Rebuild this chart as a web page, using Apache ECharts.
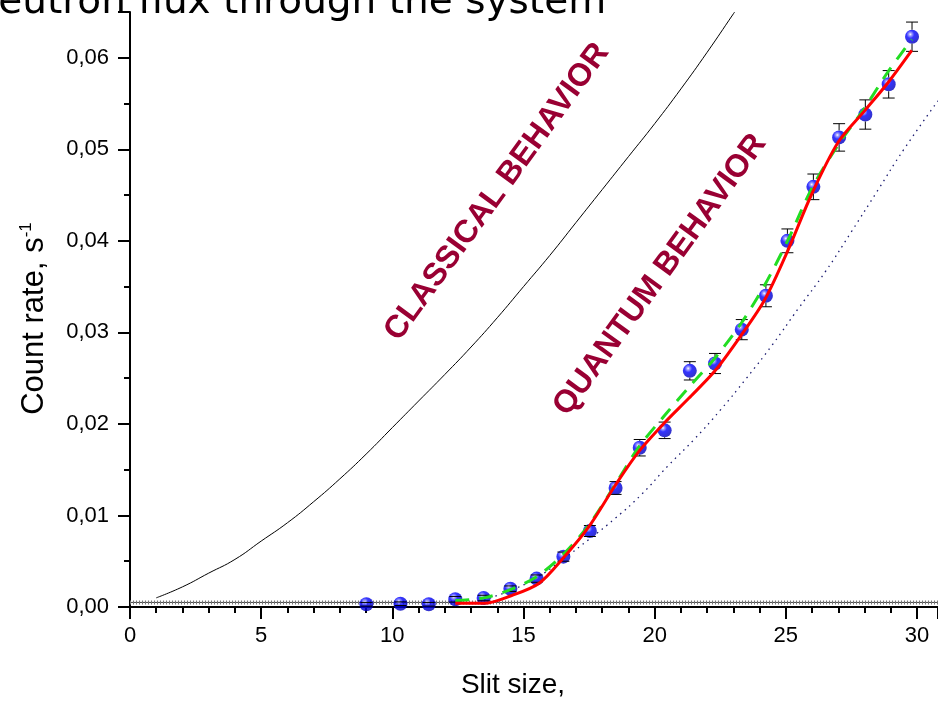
<!DOCTYPE html>
<html>
<head>
<meta charset="utf-8">
<script src="https://cdn.jsdelivr.net/npm/echarts@6/dist/echarts.min.js"></script>
<style>
  html, body { margin: 0; padding: 0; background: #fff; }
  #main { width: 938px; height: 704px; }
</style>
</head>
<body>
<div id="main"></div>
<script>
// measured points (blue balls) with error bars
const slitSize = [9.01, 10.31, 11.39, 12.4, 13.48, 14.5, 15.5, 16.52, 17.53, 18.51, 19.43, 20.38, 21.34, 22.3, 23.32, 24.24, 25.06, 26.05, 27.03, 28.03, 28.92, 29.81];
const countRate = [0.0003, 0.00036, 0.0003, 0.00084, 0.00098, 0.002, 0.0031, 0.0055, 0.0083, 0.013, 0.0174, 0.0193, 0.0258, 0.0266, 0.0303, 0.034, 0.04, 0.0459, 0.0513, 0.0538, 0.0571, 0.0623];
const countErr = [0.0002, 0.0002, 0.0002, 0.0003, 0.0003, 0.0003, 0.0004, 0.0005, 0.0006, 0.0007, 0.0009, 0.0009, 0.001, 0.0011, 0.0011, 0.0012, 0.0013, 0.0014, 0.0015, 0.0016, 0.0015, 0.0016];

// classical curve (thin black)
const classicX = [1, 2, 3, 4, 5, 6, 7, 8, 9, 10, 11, 12, 13, 14, 15, 16, 17, 18, 19, 20, 21, 22, 23, 23.05];
const classicY = [0.001, 0.0022, 0.0037, 0.0052, 0.0072, 0.0092, 0.0115, 0.014, 0.0167, 0.0196, 0.0225, 0.0254, 0.0284, 0.0316, 0.035, 0.0384, 0.042, 0.0456, 0.0492, 0.0528, 0.0566, 0.0606, 0.0648, 0.065];

// quantum fit (red solid)
const fitX = [12.4, 13.5, 14.5, 15.6, 16.5, 17.5, 18.5, 19.4, 20.4, 21.3, 22.3, 23.3, 24.2, 25.1, 26.0, 27.0, 28.0, 28.9, 29.8];
const fitY = [0.0004, 0.0004, 0.0012, 0.0026, 0.0053, 0.0088, 0.0133, 0.017, 0.0202, 0.0228, 0.0258, 0.0297, 0.0336, 0.0391, 0.0452, 0.0508, 0.0542, 0.0573, 0.0608];

// second fit (green dashed)
const guideX = [12.4, 13.5, 14.5, 15.5, 16.5, 17.5, 18.5, 19.4, 20.4, 21.3, 22.3, 23.3, 24.2, 25.1, 26.0, 27.0, 28.0, 28.9, 29.8];
const guideY = [0.0007, 0.001, 0.0019, 0.0033, 0.0057, 0.009, 0.0134, 0.0175, 0.021, 0.024, 0.0272, 0.031, 0.0352, 0.0402, 0.0458, 0.0505, 0.0545, 0.0585, 0.062];

// model curve (navy dotted)
const modelX = [13.5, 14.5, 15.5, 16.5, 17.5, 18.5, 19.5, 20.5, 21.5, 22.5, 23.5, 24.5, 25.5, 26.5, 27.5, 28.5, 29.5, 30.8];
const modelY = [0.0008, 0.0018, 0.0032, 0.0052, 0.0074, 0.0097, 0.0123, 0.0154, 0.0183, 0.0215, 0.025, 0.0287, 0.0327, 0.0366, 0.041, 0.0455, 0.05, 0.0553];

// background level
const bgX = [0, 30.8];
const bgY = [0.0005, 0.0005];

const zip = (xs, ys) => xs.map((x, i) => [x, ys[i]]);

var chartDom = document.getElementById('main');
var myChart = echarts.init(chartDom);
var option;

const ARIAL = 'Liberation Sans';
const RED_TXT = '#990033';

option = {
  animation: false,
  backgroundColor: '#fff',
  grid: { left: 130, top: 12, right: 0, bottom: 94, containLabel: false },
  graphic: [
    {
      type: 'text', left: -31, top: -17, z: 10,
      style: { text: 'Neutron flux through the system', font: '39px "DejaVu Sans"', fill: '#000' }
    },
    {
      type: 'text', x: 497, y: 192, rotation: 54 * Math.PI / 180, z: 10,
      style: { text: 'CLASSICAL BEHAVIOR', font: 'bold 32px "Liberation Sans"', fill: RED_TXT, align: 'center', verticalAlign: 'middle' }
    },
    {
      type: 'text', x: 660, y: 275, rotation: 54 * Math.PI / 180, z: 10,
      style: { text: 'QUANTUM BEHAVIOR', font: 'bold 32px "Liberation Sans"', fill: RED_TXT, align: 'center', verticalAlign: 'middle' }
    }
  ],
  xAxis: {
    type: 'value', min: 0, max: 30.8, interval: 5,
    name: 'Slit size,', nameLocation: 'middle', nameGap: 64,
    nameTextStyle: { fontFamily: ARIAL, fontSize: 28, color: '#000', padding: [0, 42, 0, 0] },
    axisLine: { onZero: false, lineStyle: { color: '#000', width: 2 } },
    axisTick: { inside: false, length: 12, lineStyle: { color: '#000', width: 2 } },
    minorTick: { show: true, splitNumber: 5, length: 6, lineStyle: { color: '#000', width: 2 } },
    axisLabel: { showMaxLabel: false, margin: 18, fontFamily: ARIAL, fontSize: 22, color: '#000' },
    splitLine: { show: false }
  },
  yAxis: {
    type: 'value', min: 0, max: 0.065, interval: 0.01,
    name: 'Count rate, s{sup|-1}', nameLocation: 'middle', nameGap: 80,
    nameTextStyle: {
      fontFamily: ARIAL, fontSize: 31, color: '#000', padding: [0, 18, 0, 0],
      rich: { sup: { fontFamily: ARIAL, fontSize: 17, color: '#000', verticalAlign: 'top', padding: [0, 0, 15, 0] } }
    },
    axisLine: { lineStyle: { color: '#000', width: 2 } },
    axisTick: { inside: false, length: 12, lineStyle: { color: '#000', width: 2 } },
    minorTick: { show: true, splitNumber: 2, length: 6, lineStyle: { color: '#000', width: 2 } },
    axisLabel: {
      showMaxLabel: false, margin: 21, fontFamily: ARIAL, fontSize: 22, color: '#000',
      formatter: v => v.toFixed(2).replace('.', ',')
    },
    splitLine: { show: false }
  },
  series: [
    {
      // background level
      type: 'line', data: zip(bgX, bgY), symbol: 'none', z: 1,
      lineStyle: { color: '#444', width: 1 }
    },
    {
      type: 'line', data: zip(bgX, bgY), symbol: 'none', z: 1,
      lineStyle: { color: '#777', width: 4, type: [1, 2] }
    },
    {
      // classical
      type: 'line', data: zip(classicX, classicY), symbol: 'none', smooth: true, z: 2,
      lineStyle: { color: '#000', width: 1 }
    },
    {
      // model dotted
      type: 'line', data: zip(modelX, modelY), symbol: 'none', smooth: true, z: 2,
      lineStyle: { color: '#1a1a70', width: 1.3, type: [1.5, 4.5] }
    },
    {
      // blue balls
      type: 'scatter', data: zip(slitSize, countRate), symbol: 'circle', symbolSize: 14, z: 3,
      itemStyle: {
        color: {
          type: 'radial', x: 0.38, y: 0.33, r: 0.7,
          colorStops: [
            { offset: 0, color: '#ffffff' },
            { offset: 0.15, color: '#8888ff' },
            { offset: 0.4, color: '#0000ff' },
            { offset: 1, color: '#0000b8' }
          ]
        }
      }
    },
    {
      // error bars
      type: 'custom', z: 4,
      data: slitSize.map((x, i) => [x, countRate[i], countErr[i]]),
      renderItem: function (params, api) {
        const x = api.value(0), y = api.value(1), e = api.value(2);
        const c = api.coord([x, y]);
        const t = api.coord([x, y + e]);
        const b = api.coord([x, y - e]);
        const r = 7, hw = 6;
        const st = { stroke: '#000', lineWidth: 1 };
        const kids = [
          { type: 'line', shape: { x1: c[0] - hw, y1: t[1], x2: c[0] + hw, y2: t[1] }, style: st },
          { type: 'line', shape: { x1: c[0] - hw, y1: b[1], x2: c[0] + hw, y2: b[1] }, style: st }
        ];
        if (t[1] < c[1] - r) kids.push({ type: 'line', shape: { x1: c[0], y1: t[1], x2: c[0], y2: c[1] - r }, style: st });
        if (b[1] > c[1] + r) kids.push({ type: 'line', shape: { x1: c[0], y1: c[1] + r, x2: c[0], y2: b[1] }, style: st });
        return { type: 'group', children: kids };
      }
    },
    {
      // green dashed fit
      type: 'line', data: zip(guideX, guideY), symbol: 'none', smooth: 0.3, z: 5,
      lineStyle: { color: '#22dd22', width: 3, type: [14, 10] }
    },
    {
      // red fit
      type: 'line', data: zip(fitX, fitY), symbol: 'none', smooth: 0.3, z: 6,
      lineStyle: { color: '#ff0000', width: 3 }
    }
  ]
};

option && myChart.setOption(option);
</script>
</body>
</html>
